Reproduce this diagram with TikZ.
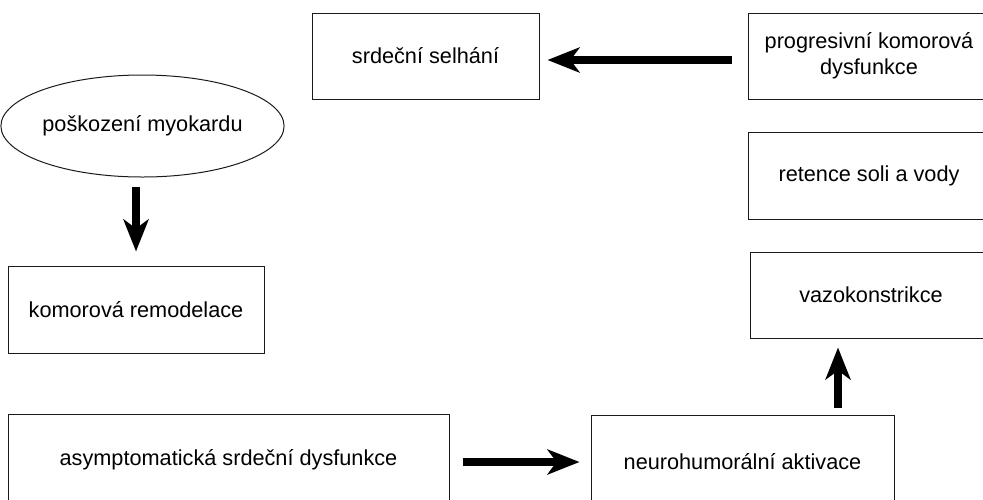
\documentclass[tikz,border=0pt]{standalone}
\usepackage{fontspec}
\setmainfont{Liberation Sans}
\usepackage{tikz}
\usetikzlibrary{arrows.meta,shapes.geometric}
\definecolor{edgec}{HTML}{1A1A1A}
\tikzset{
  ar/.style={-{Stealth[length=16pt,width=12.5pt,inset=4.5pt]},line width=3.7pt,black},
  box/.style={draw=edgec,line width=0.5pt,align=center,inner sep=0pt,font=\fontsize{10.85}{12.9}\selectfont},
  oval/.style={box,ellipse}
}
\begin{document}
\begin{tikzpicture}[x=0.5pt,y=-0.5pt]
\useasboundingbox (0,0) rectangle (983,499); \clip (0,0) rectangle (983,499);
\node[box,minimum width=113.5pt,minimum height=43pt] (selhani) at (425.5,56) {srdeční selhání};
\node[box,minimum width=121pt,minimum height=43pt] (progres) at (869,56) {progresivní komorová\\dysfunkce};
\node[box,minimum width=121pt,minimum height=43.5pt] (retence) at (869,175.5) {retence soli a vody};
\node[box,minimum width=121pt,minimum height=43pt] (vazo) at (871,295) {vazokonstrikce};
\node[box,minimum width=151.5pt,minimum height=47pt] (neuro) at (742.5,462) {neurohumorální aktivace};
\node[box,minimum width=220.5pt,minimum height=46pt] (asymp) at (228.5,460) {asymptomatická srdeční dysfunkce};
\node[box,minimum width=128pt,minimum height=43.5pt] (remod) at (136,309.5) {komorová remodelace};
\node[oval,minimum width=134.5pt,minimum height=51pt] (poskoz) at (142.5,126) {poškození myokardu};
\draw[ar,shorten <=4.5pt,shorten >=7pt] (poskoz.south -| remod.north) -- (remod.north);
\draw[ar,shorten <=8pt,shorten >=4pt] ([yshift=-2pt]progres.west) -- ([yshift=-2pt]selhani.east);
\draw[ar,shorten <=6.5pt,shorten >=5.5pt] (asymp.east |- neuro.west) -- (neuro.west);
\draw[ar,shorten <=3.5pt,shorten >=4.5pt] ([xshift=47.75pt]neuro.north) -- ([xshift=47.75pt]neuro.north |- vazo.south);
\end{tikzpicture}
\end{document}
